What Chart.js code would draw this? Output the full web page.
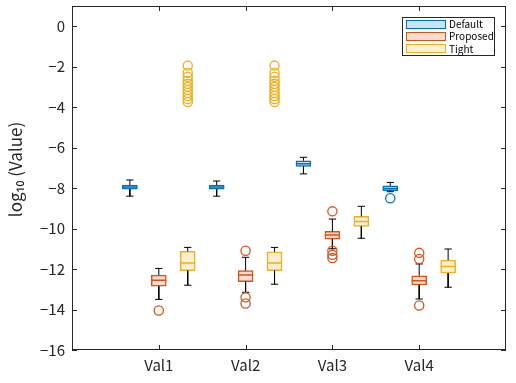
<!DOCTYPE html>
<html><head><meta charset="utf-8">
<script src="https://cdn.jsdelivr.net/npm/chart.js@4.4.0/dist/chart.umd.min.js"></script>
<style>
html,body{margin:0;padding:0;background:#fff;}
#wrap{position:relative;width:516px;height:383px;}
#legend{position:absolute;left:402px;top:17px;width:93px;height:39px;border:1px solid #262626;background:#fff;font-family:"Noto Sans CJK JP","Noto Sans",sans-serif;font-size:10px;color:#000;box-sizing:border-box;}
.row{position:absolute;left:3px;height:10px;display:flex;align-items:center;line-height:10px;}
.sw{width:40px;height:9px;box-sizing:border-box;border:1.5px solid;margin-right:3px;}
</style></head>
<body><div id="wrap"><canvas id="c" width="516" height="383"></canvas><div id="legend"></div></div>
<script>
// ---- data ----
const categories = ['Val1', 'Val2', 'Val3', 'Val4'];
const groupNames = ['Default', 'Proposed', 'Tight'];
const yTicks = [-16, -14, -12, -10, -8, -6, -4, -2, 0];

const defaultLow    = [-8.40, -8.40, -7.30, -8.18];
const defaultQ1     = [-8.05, -8.05, -6.93, -8.13];
const defaultMedian = [-7.95, -7.95, -6.80, -8.02];
const defaultQ3     = [-7.85, -7.85, -6.65, -7.89];
const defaultHigh   = [-7.60, -7.65, -6.48, -7.72];
const defaultOutliers = [[], [], [], [-8.50]];

const proposedLow    = [-13.50, -13.15, -11.00, -13.48];
const proposedQ1     = [-12.85, -12.63, -10.52, -12.79];
const proposedMedian = [-12.55, -12.30, -10.32, -12.58];
const proposedQ3     = [-12.30, -12.08, -10.14, -12.33];
const proposedHigh   = [-11.97, -11.42, -9.53, -11.75];
const proposedOutliers = [[-14.05], [-11.10, -13.40, -13.70], [-9.15, -11.10, -11.30, -11.46], [-11.20, -11.50, -13.80]];

const tightLow    = [-12.80, -12.75, -10.48, -12.90];
const tightQ1     = [-12.08, -12.08, -9.89, -12.20];
const tightMedian = [-11.70, -11.70, -9.65, -11.88];
const tightQ3     = [-11.13, -11.15, -9.40, -11.56];
const tightHigh   = [-10.93, -10.93, -8.90, -11.01];
const tightOutliers = [
  [-1.95, -2.30, -2.50, -2.70, -2.85, -3.00, -3.15, -3.30, -3.45, -3.60, -3.75],
  [-1.95, -2.30, -2.50, -2.70, -2.85, -3.00, -3.15, -3.30, -3.45, -3.60, -3.75],
  [], []
];

// ---- styles ----
const edgeColors = ['#0072BD', '#D95319', '#EDB120'];
const fillColors = ['#cce3f2', '#f7ddd2', '#fbefd2'];
const groupOffsets = [-1/3, 0, 1/3];
const FONT = '"Noto Sans CJK JP", "Noto Sans", sans-serif';

const groups = [
  {low: defaultLow, q1: defaultQ1, med: defaultMedian, q3: defaultQ3, high: defaultHigh, out: defaultOutliers},
  {low: proposedLow, q1: proposedQ1, med: proposedMedian, q3: proposedQ3, high: proposedHigh, out: proposedOutliers},
  {low: tightLow, q1: tightQ1, med: tightMedian, q3: tightQ3, high: tightHigh, out: tightOutliers}
];

const BOX_HALF = 0.0865;   // half box width in axis units
const CAP_HALF = 0.042;

const datasets = [];
groups.forEach((g, gi) => {
  const xs = categories.map((c, ci) => ci + 1 + groupOffsets[gi]);
  datasets.push({
    type: 'bar', label: groupNames[gi],
    data: xs.map((x, ci) => ({x: x, y: [g.q1[ci], g.q3[ci]]})),
    backgroundColor: fillColors[gi], borderColor: edgeColors[gi],
    borderWidth: 1.5, borderSkipped: false, barThickness: 15, grouped: false, order: 5
  });
  const med = [];
  xs.forEach((x, ci) => {
    med.push({x: x - BOX_HALF, y: g.med[ci]}, {x: x + BOX_HALF, y: g.med[ci]}, {x: x + BOX_HALF, y: null});
  });
  datasets.push({
    type: 'line', label: groupNames[gi] + ' median', data: med,
    borderColor: edgeColors[gi], borderWidth: 1.5, pointRadius: 0, spanGaps: false, order: 1
  });
  const wh = [];
  xs.forEach((x, ci) => {
    wh.push({x: x, y: g.q3[ci]}, {x: x, y: g.high[ci]}, {x: x, y: null});
    wh.push({x: x, y: g.q1[ci]}, {x: x, y: g.low[ci]}, {x: x, y: null});
    wh.push({x: x - CAP_HALF, y: g.high[ci]}, {x: x + CAP_HALF, y: g.high[ci]}, {x: x, y: null});
    wh.push({x: x - CAP_HALF, y: g.low[ci]}, {x: x + CAP_HALF, y: g.low[ci]}, {x: x, y: null});
  });
  datasets.push({
    type: 'line', label: groupNames[gi] + ' whisker', data: wh,
    borderColor: '#000000', borderWidth: 1, pointRadius: 0, spanGaps: false, order: 2
  });
  const outs = [];
  xs.forEach((x, ci) => g.out[ci].forEach(v => outs.push({x: x, y: v})));
  datasets.push({
    type: 'scatter', label: groupNames[gi] + ' outliers', data: outs,
    pointStyle: 'circle', pointRadius: 4.6, borderColor: edgeColors[gi],
    backgroundColor: 'rgba(255,255,255,0)', borderWidth: 1.3, showLine: false, order: 0
  });
});

const framePlugin = {
  id: 'frame',
  afterDraw(chart) {
    const {ctx, chartArea: a, scales: {x, y}} = chart;
    ctx.save();
    ctx.strokeStyle = '#262626';
    ctx.lineWidth = 1;
    ctx.strokeRect(Math.round(a.left) + 0.5, Math.round(a.top) + 0.5, Math.round(a.right - a.left) - 1, Math.round(a.bottom - a.top) - 1);
    ctx.beginPath();
    y.ticks.forEach(t => {
      const py = Math.round(y.getPixelForValue(t.value)) + 0.5;
      ctx.moveTo(a.left, py); ctx.lineTo(a.left + 5, py);
      ctx.moveTo(a.right, py); ctx.lineTo(a.right - 5, py);
    });
    x.ticks.forEach(t => {
      const px = Math.round(x.getPixelForValue(t.value)) + 0.5;
      ctx.moveTo(px, a.bottom); ctx.lineTo(px, a.bottom - 5);
      ctx.moveTo(px, a.top); ctx.lineTo(px, a.top + 5);
    });
    ctx.stroke();
    ctx.restore();
  }
};

new Chart(document.getElementById('c'), {
  type: 'bar',
  data: {datasets},
  plugins: [framePlugin],
  options: {
    responsive: false, animation: false, events: [],
    layout: {padding: {top: 5, right: 10, left: 0, bottom: 0}},
    plugins: {legend: {display: false}, tooltip: {enabled: false}, title: {display: false}},
    scales: {
      x: {
        type: 'linear', min: 0, max: 5, offset: false,
        grid: {display: false, drawTicks: false}, border: {display: false},
        afterBuildTicks: s => { s.ticks = categories.map((c, i) => ({value: i + 1})); },
        ticks: {autoSkip: false, maxRotation: 0, padding: 6, color: '#262626',
          font: {family: FONT, size: 15},
          callback: v => categories[Math.round(v) - 1] || ''},
        afterFit: s => { s.height = 33; s.paddingLeft = 0; s.paddingRight = 0; }
      },
      y: {
        min: -16, max: 1,
        grid: {display: false, drawTicks: false}, border: {display: false},
        afterBuildTicks: s => { s.ticks = yTicks.map(v => ({value: v})); },
        ticks: {padding: 7, color: '#262626', font: {family: FONT, size: 15},
          callback: v => v < 0 ? '\u2212' + Math.abs(v) : String(v)},
        title: {display: true, text: '\u2002\u2002log\u2081\u2080 (Value)', color: '#262626',
          font: {family: FONT, size: 17}, padding: {top: 5, bottom: 0}},
        afterFit: s => { s.width = 72; s.paddingTop = 0; s.paddingBottom = 0; }
      }
    }
  }
});

// HTML legend
const leg = document.getElementById('legend');
groupNames.forEach((n, i) => {
  const r = document.createElement('div');
  r.className = 'row';
  r.style.top = (1 + i * 12.3) + 'px';
  r.innerHTML = '<div class="sw" style="border-color:' + edgeColors[i] + ';background:' + fillColors[i] + '"></div><span>' + n + '</span>';
  leg.appendChild(r);
});
</script>
</body></html>
